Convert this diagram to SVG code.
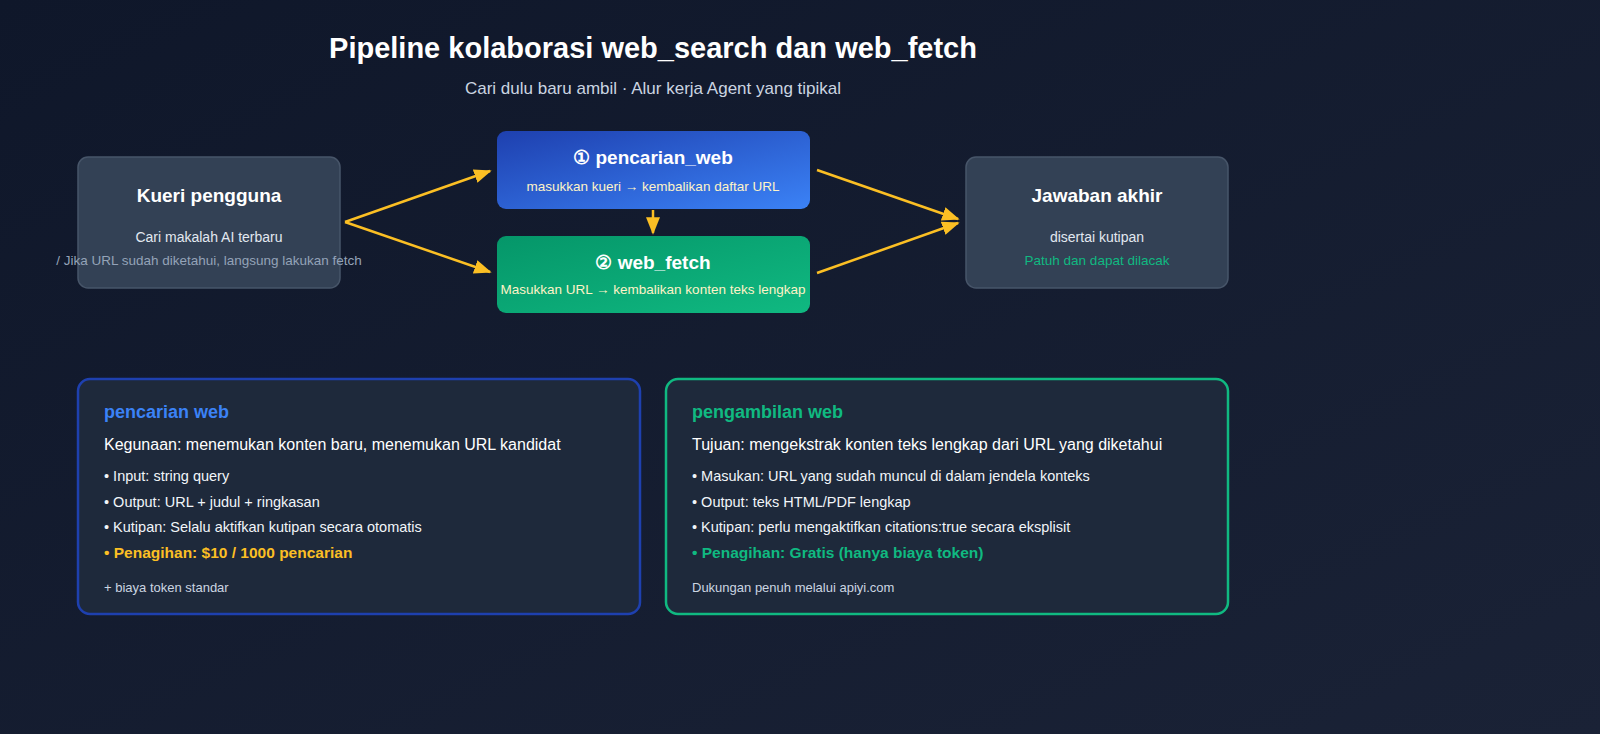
<svg xmlns="http://www.w3.org/2000/svg" width="1600" height="734" viewBox="0 0 1600 734">
<defs>
<linearGradient id="bg" x1="0" y1="0" x2="1" y2="1"><stop offset="0" stop-color="#0f172a"/><stop offset="1" stop-color="#1a2236"/></linearGradient>
<linearGradient id="gb" x1="0" y1="0" x2="1" y2="1"><stop offset="0" stop-color="#1e40af"/><stop offset="1" stop-color="#3b82f6"/></linearGradient>
<linearGradient id="gg" x1="0" y1="0" x2="1" y2="1"><stop offset="0" stop-color="#059669"/><stop offset="1" stop-color="#10b981"/></linearGradient>
<marker id="ah" viewBox="0 0 10 10" refX="9" refY="5" markerWidth="7" markerHeight="7" orient="auto-start-reverse" markerUnits="strokeWidth"><path d="M0,1 L10,5 L0,9 z" fill="#fbbf24"/></marker>
<style>
text{font-family:"Liberation Sans","Noto Sans",sans-serif}
.gray{fill:#334155;stroke:#475569;stroke-width:1.5}
.t{fill:#fff;font-weight:bold;font-size:19px;text-anchor:middle}
.s{fill:#e2e8f0;font-size:14px;text-anchor:middle}
.c{stroke:#fbbf24;stroke-width:2.5;fill:none;marker-end:url(#ah)}
.panel{fill:#1e293b;stroke-width:2.5}
.p{fill:#f1f5f9;font-size:14.5px}
</style>
</defs>
<rect width="1600" height="734" fill="url(#bg)"/>
<text x="653" y="58" fill="#fff" font-size="29" font-weight="bold" text-anchor="middle">Pipeline kolaborasi web_search dan web_fetch</text>
<text x="653" y="94" fill="#cbd5e1" font-size="17" text-anchor="middle">Cari dulu baru ambil · Alur kerja Agent yang tipikal</text>
<g id="connectors">
<path class="c" d="M345,222 L490,171"/>
<path class="c" d="M345,222 L490,272"/>
<path class="c" d="M653,210 L653,233"/>
<path class="c" d="M817,170 L958,219"/>
<path class="c" d="M817,273 L958,223"/>
</g>
<g id="user-query">
<rect class="gray" x="78" y="157" width="262" height="131" rx="10"/>
<text class="t" x="209" y="202">Kueri pengguna</text>
<text class="s" x="209" y="242">Cari makalah AI terbaru</text>
<text x="209" y="265" fill="#94a3b8" font-size="13.5" text-anchor="middle">/ Jika URL sudah diketahui, langsung lakukan fetch</text>
</g>
<g id="web-search">
<rect x="497" y="131" width="313" height="78" rx="9" fill="url(#gb)"/>
<text class="t" x="653" y="164">① pencarian_web</text>
<text x="653" y="191" fill="#fef3c7" font-size="13.5" text-anchor="middle">masukkan kueri → kembalikan daftar URL</text>
</g>
<g id="web-fetch">
<rect x="497" y="236" width="313" height="77" rx="9" fill="url(#gg)"/>
<text class="t" x="653" y="269">② web_fetch</text>
<text x="653" y="294" fill="#fef3c7" font-size="13.5" text-anchor="middle">Masukkan URL → kembalikan konten teks lengkap</text>
</g>
<g id="final-answer">
<rect class="gray" x="966" y="157" width="262" height="131" rx="10"/>
<text class="t" x="1097" y="202">Jawaban akhir</text>
<text class="s" x="1097" y="242">disertai kutipan</text>
<text x="1097" y="265" fill="#10b981" font-size="13.5" text-anchor="middle">Patuh dan dapat dilacak</text>
</g>
<g id="search-panel">
<rect class="panel" x="78" y="379" width="562" height="235" rx="12" stroke="#1e40af"/>
<text x="104" y="418" fill="#3b82f6" font-size="18" font-weight="bold">pencarian web</text>
<text x="104" y="450" fill="#fff" font-size="16">Kegunaan: menemukan konten baru, menemukan URL kandidat</text>
<text class="p" x="104" y="481">• Input: string query</text>
<text class="p" x="104" y="507">• Output: URL + judul + ringkasan</text>
<text class="p" x="104" y="532">• Kutipan: Selalu aktifkan kutipan secara otomatis</text>
<text x="104" y="558" fill="#fbbf24" font-size="15.5" font-weight="bold">• Penagihan: $10 / 1000 pencarian</text>
<text x="104" y="592" fill="#cbd5e1" font-size="13">+ biaya token standar</text>
</g>
<g id="fetch-panel">
<rect class="panel" x="666" y="379" width="562" height="235" rx="12" stroke="#10b981"/>
<text x="692" y="418" fill="#10b981" font-size="18" font-weight="bold">pengambilan web</text>
<text x="692" y="450" fill="#fff" font-size="16">Tujuan: mengekstrak konten teks lengkap dari URL yang diketahui</text>
<text class="p" x="692" y="481">• Masukan: URL yang sudah muncul di dalam jendela konteks</text>
<text class="p" x="692" y="507">• Output: teks HTML/PDF lengkap</text>
<text class="p" x="692" y="532">• Kutipan: perlu mengaktifkan citations:true secara eksplisit</text>
<text x="692" y="558" fill="#10b981" font-size="15.5" font-weight="bold">• Penagihan: Gratis (hanya biaya token)</text>
<text x="692" y="592" fill="#cbd5e1" font-size="13">Dukungan penuh melalui apiyi.com</text>
</g>
</svg>
